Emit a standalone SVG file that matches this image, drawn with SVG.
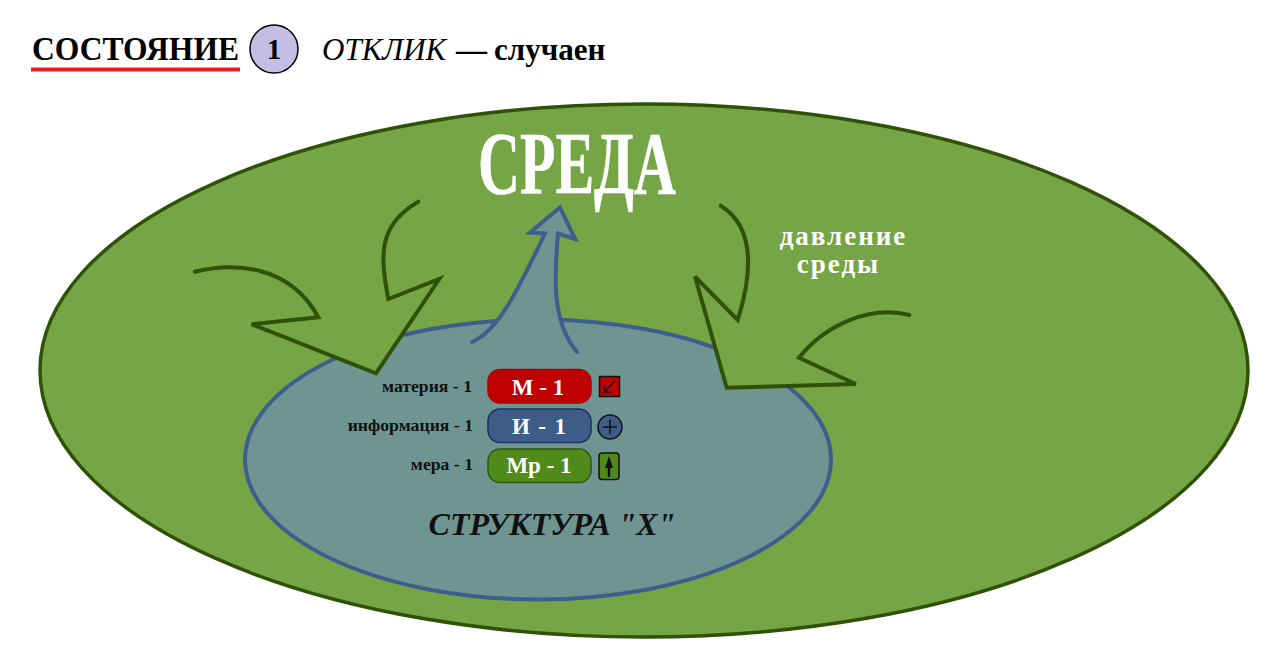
<svg xmlns="http://www.w3.org/2000/svg" width="1281" height="667" viewBox="0 0 1281 667">
<style>
text{font-family:"Liberation Serif","Times New Roman",serif;font-weight:bold}
.big{stroke:#2F5208;stroke-width:4;fill:none;stroke-linejoin:miter;stroke-linecap:round}
.bigfill{fill:#75A544;stroke:none}
.lab{font-size:17.700px;fill:#111;text-anchor:end}
.pill{stroke-width:1.500}
.pt{font-size:23px;fill:#fff;text-anchor:middle}
</style>
<rect width="1281" height="667" fill="#fff"/>
<g id="title">
<text x="32" y="60" font-size="33" fill="#000" textLength="207" lengthAdjust="spacingAndGlyphs">СОСТОЯНИЕ</text>
<line x1="31" y1="69.500" x2="240" y2="69.500" stroke="#ED1C24" stroke-width="4"/>
<circle cx="274" cy="49" r="24" fill="#C5BEE4" stroke="#000" stroke-width="1.500"/>
<text x="274" y="59" font-size="29" fill="#000" text-anchor="middle">1</text>
<text x="322" y="60" font-size="31" fill="#000" style="font-weight:normal;font-style:italic">ОТКЛИК</text>
<text x="456" y="60" font-size="31" fill="#000" style="font-weight:bold">—</text>
<text x="494" y="60" font-size="31" fill="#000">случаен</text>
</g>
<g id="environment">
<ellipse cx="644" cy="370.500" rx="604" ry="266.500" fill="#75A544" stroke="#2F5208" stroke-width="3.500"/>
</g>
<g id="structure">
<ellipse cx="538" cy="459.500" rx="293" ry="140" fill="#6F9593" stroke="#3E5F8E" stroke-width="4"/>
<text x="552" y="535" font-size="32" fill="#111" text-anchor="middle" style="font-style:italic">СТРУКТУРА "Х"</text>
</g>
<g id="connectors">
<path fill="#6F9593" d="M472 342C500 330 520 285 545 233.500L530 232.500L560 207.500L575 239L558 233.500C555 270 550 320 577 352Z"/>
<path fill="none" stroke="#3E5F8E" stroke-width="4" stroke-linecap="round" stroke-linejoin="miter" d="M472 342C500 330 520 285 545 233.500L530 232.500L560 207.500L575 239L558 233.500C555 270 550 320 577 352"/>
<path class="bigfill" d="M195 271.700C235 262 290 265 318.300 317.300L251.700 324.300L376 373.300L439.300 279L388.300 299C380 255 378 225 418.300 201.700Z"/>
<path class="big" d="M195 271.700C235 262 290 265 318.300 317.300L251.700 324.300L376 373.300L439.300 279L388.300 299C380 255 378 225 418.300 201.700"/>
<path class="bigfill" d="M720.700 205.700C752 225 755 265 737.700 320L695 276.700L726.700 387.700L855.700 384L799 357.700C825 325 870 305 909.300 315Z"/>
<path class="big" d="M720.700 205.700C752 225 755 265 737.700 320L695 276.700L726.700 387.700L855.700 384L799 357.700C825 325 870 305 909.300 315"/>
</g>
<g id="labels">
<text transform="translate(478 193) scale(1 1.520)" font-size="58" fill="#fff" stroke="#fff" stroke-width="0.400" textLength="198" lengthAdjust="spacingAndGlyphs">СРЕДА</text>
<text x="843.500" y="245" font-size="27" letter-spacing="2" fill="#fff" text-anchor="middle">давление</text>
<text x="838.500" y="273" font-size="27" letter-spacing="2" fill="#fff" text-anchor="middle">среды</text>
</g>
<g id="matter">
<text class="lab" x="472" y="392">материя - 1</text>
<rect class="pill" x="488" y="369.500" width="103" height="33.500" rx="12" fill="#C00000" stroke="#B00000"/>
<text class="pt" x="538" y="395">М - 1</text>
<rect x="599.500" y="376.500" width="20" height="20" fill="#C00000" stroke="#111" stroke-width="1.500"/>
<path d="M615 381L604 392M604 385V392H611" fill="none" stroke="#111" stroke-width="1.500"/>
</g>
<g id="information">
<text class="lab" x="473" y="431">информация - 1</text>
<rect class="pill" x="488" y="409" width="103" height="33.500" rx="12" fill="#3D5C87" stroke="#1F2F5F"/>
<text class="pt" x="539" y="434" textLength="54" lengthAdjust="spacing">И - 1</text>
<circle cx="610" cy="427" r="12" fill="#3D5C87" stroke="#111" stroke-width="1.500"/>
<path d="M603 427H617M610 420V434" stroke="#111" stroke-width="1.500"/>
</g>
<g id="measure">
<text class="lab" x="473" y="470">мера - 1</text>
<rect class="pill" x="488" y="449" width="103" height="33.500" rx="12" fill="#4F8A1A" stroke="#2C5A10"/>
<text class="pt" x="539" y="473">Мр - 1</text>
<rect x="599" y="453" width="20" height="26.500" rx="3" fill="#4F8A1A" stroke="#111" stroke-width="1.500"/>
<path d="M609 456L613 468H610.200V477H607.800V468H605Z" fill="#111"/>
</g>
</svg>
